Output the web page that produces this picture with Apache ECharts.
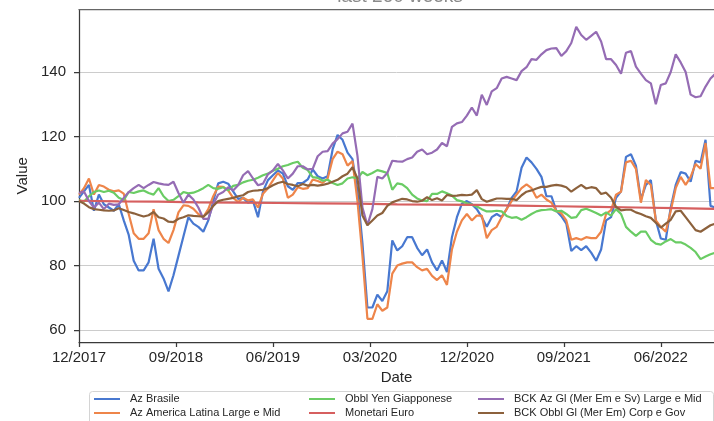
<!DOCTYPE html>
<html>
<head>
<meta charset="utf-8">
<script src="https://cdn.jsdelivr.net/npm/echarts@6/dist/echarts.min.js"></script>
<style>
  html, body { margin: 0; padding: 0; background: #fff; }
  #chart { width: 714px; height: 421px; }
</style>
</head>
<body>
<div id="chart"></div>
<script>
// one point every 2 weeks, week 0 = 12/2017
var STEP = 2;
var azBrasile = [101,103,105,97,102,99,98,97,99,94,
  89.5,81.5,78.5,78.5,81,88.3,79,76,72,77,
  83,89,95,93,92,90.5,94,100,105.5,106,
  105.4,103,100.7,101,99.5,100,95,103,106.5,108,
  109.5,108.5,104.6,103.5,105.6,105.6,106.7,109.8,107.7,107,
  107.7,116,120.5,119,115,113,103,87,67,67,
  71,69,72,87.8,84.7,86,88.8,88.8,85.5,83.2,
  85,81,78.5,81.6,78,88.8,95,99.2,100,99,
  97.5,95,92,95,96,95,97.5,101,103,110.3,
  113.5,112,110,107.5,101.5,101.5,97,95.3,93,84.5,
  86,84.8,86,84,81.5,85,94,95,101,103,
  113.7,114.5,111,100.5,105,106.5,94,88.4,88,98,
  105,109,108.5,106,112.5,112,119,98.5,98];
var azAmericaLatina = [102,104,107,102,105,104.5,103.5,103,103.3,102.3,
  96,90,88.3,88.3,90,97.5,91,88.3,87,91,
  96.5,98.7,98.5,97.6,96,95,97.5,101.5,104.5,104.4,
  103.3,101,99.7,101,100.2,100.5,98,102.3,104,106.4,
  108.7,107,101,102,104.3,103.8,104,106.7,106.2,105.6,
  107,113,115.3,114.5,111,112.4,100,83,63.5,63.5,
  68,66,67,77.5,80,80.6,81,81,79.5,78.5,
  79,76.8,75.5,77,74,85,90.5,94,96,94,
  95.5,95.5,88.5,91,92,95,97.5,100,102,104,
  105.2,104,101,102,100.5,99.5,97,96.2,94,88,
  88.5,88,88.8,88.5,88.5,90.5,96,97.2,102,102.9,
  112,112.5,110,99.5,106.5,105,94,92,90.5,97,
  104,107.5,105,107.5,111.5,110,118,104,104];
var obblYen = [100.3,99.8,101.5,102.8,103.3,102.8,103.2,102.6,101,100.3,
  102.8,102.5,103,103.3,102.5,102,104,101.5,100,100.4,
  101.5,102.8,102.4,102.6,103.2,104,105,104,103.8,104.3,
  103.3,104.7,105,105.8,106.3,106.6,107.2,108,108.5,109.4,
  110,110.8,111.2,111.8,112.2,110.3,109.6,107.4,107.2,106.3,
  106.6,105.6,105,105.5,107,107.4,107,109,108,108.7,
  109.6,109.2,108.7,103.5,105.5,105.2,104,102,100.8,100.2,
  100,102.2,102.2,103,102.4,101.7,100.3,99.9,99.3,98.9,
  98.3,97.5,96.8,96.8,97,96.8,95.4,94.8,95,94.2,
  95,96,96.8,97.2,97.3,97.5,96.8,97,96,94.8,
  95,97.2,97.6,97,96.3,95.5,96.5,95.5,97.5,96,
  92,90.5,89.2,90.5,90.5,88,86.8,86.5,87.5,88.2,
  87.2,87.2,86.5,85.5,84.2,82,82.8,83.5,84];
// Monetari Euro: one point every 16 weeks
var EURO_STEP = 16;
var monetariEuro = [100.1,99.9,99.8,99.6,99.5,99.4,99.3,99.2,99.0,98.9,98.8,98.6,98.4,98.2,98.0,97.8,97.6];
var bckAzGl = [102.5,103,100,98,99.5,97.5,99.2,98.8,99,101,
  102.8,104,105,104,105,105.9,105.5,105.2,105,106,
  102.5,99.5,102,100.5,98,94.5,94.5,99,102,102.8,
  104.3,103.3,104.9,108,109.3,107,104.9,105.4,108.3,109.5,
  111.5,109.5,107,108.5,110.8,110.8,109.8,110,113.9,115.3,
  115.5,117.8,119.2,121,121.5,124,114,98,92.5,97.5,
  107.5,107,108.7,112.5,112.3,112.2,113,113.5,115.3,116,
  114.5,115,116,118,117,123,124.1,124.5,126.5,129,
  126.5,133,129.8,134,135,138,138.5,138,137.5,140.3,
  141.5,144,143.8,145.5,146.8,147.3,147.4,145,146.5,149,
  154,151.5,150,151.2,152.5,149.5,144,144,142.2,139.5,
  146,146.5,141.7,139.5,137.5,136.5,130,136,136.5,140,
  145.5,143,140,133,132.2,132.5,135.5,138,139.5];
var bckObblGl = [100,99.2,98.1,97.5,97.3,97.1,97,97.1,97.8,97.2,
  96.6,96.2,95.7,95.2,95.6,96.6,95,94.6,93.6,93.5,
  94.5,95,95.6,95.4,95.3,95.2,96.5,98.5,100,100.4,
  100.7,101,101.5,101.8,102.8,103.2,103.3,103.5,104,104.9,
  105.6,106,105.3,105,104.6,105.3,104.8,105,104.8,105,
  105.4,106,106.6,107.7,108.5,110.5,107,95.5,92.5,94,
  95.5,96.3,98.5,99.6,100.2,100.7,100.5,100,99.8,100.1,
  101.2,100.3,100.9,100.2,101.9,101.6,101.7,101.9,101.8,102,
  103.4,100.6,99.8,100.3,100.8,100.8,100.7,100.7,100.3,101.8,
  102.9,103.3,103.9,104.4,104.4,104.8,105,104.8,104.3,102.9,
  104,105,103.9,104.3,104,102.2,102.6,101,98.2,97.1,
  97.3,97.3,96.5,96,95.3,94.8,93.3,91.8,93,94.2,
  96.8,97,95,93,91,90.5,91.5,92.5,93];

var seriesNames = ['Az Brasile', 'Az America Latina Large e Mid', 'Obbl Yen Giapponese',
  'Monetari Euro', 'BCK Az Gl (Mer Em e Sv) Large e Mid', 'BCK Obbl Gl (Mer Em) Corp e Gov'];
var seriesColors = ['#4878d0', '#ee854a', '#6acc64', '#d65f5f', '#956cb4', '#8c613c'];

var tickWeeks = [0, 39, 78, 117, 156, 195, 234];
var tickLabels = ['12/2017', '09/2018', '06/2019', '03/2020', '12/2020', '09/2021', '06/2022'];
var yTicks = [60, 80, 100, 120, 140];

var X_MAX = 255.4;
var FONT = '"Liberation Sans", Arial, sans-serif';

function toPoints(values, step) {
  return values.map(function (v, i) { return [i * step, v]; });
}

var allData = [
  toPoints(azBrasile, STEP),
  toPoints(azAmericaLatina, STEP),
  toPoints(obblYen, STEP),
  toPoints(monetariEuro, EURO_STEP),
  toPoints(bckAzGl, STEP),
  toPoints(bckObblGl, STEP)
];

var series = seriesNames.map(function (name, i) {
  return {
    name: name,
    type: 'line',
    data: allData[i],
    showSymbol: false,
    symbol: 'none',
    color: seriesColors[i],
    lineStyle: { width: 2.2, color: seriesColors[i] }
  };
});

function legendCol(names, left) {
  return {
    data: names,
    orient: 'vertical',
    left: left,
    top: 392.5,
    padding: 0,
    icon: 'rect',
    itemWidth: 26,
    itemHeight: 2,
    itemGap: 1,
    selectedMode: false,
    textStyle: { fontSize: 11, color: '#262626', lineHeight: 13, padding: [0, 0, 0, 5], fontFamily: FONT }
  };
}

var chart = echarts.init(document.getElementById('chart'), null, { renderer: 'canvas' });
chart.setOption({
  animation: false,
  textStyle: { fontFamily: FONT },
  grid: { left: 79, right: 0, top: 9.5, bottom: 79 },
  graphic: [{
    // title, cut off by the top edge as in the picture
    type: 'text',
    x: 400,
    y: 6.5,
    style: {
      text: 'last 260 weeks',
      fontSize: 19,
      fontFamily: FONT,
      fill: '#8a8a8a',
      textAlign: 'center',
      textVerticalAlign: 'bottom'
    },
    z: 1
  }, {
    type: 'rect',
    shape: { x: 89.5, y: 391.5, width: 624, height: 40, r: 3 },
    style: { fill: '#fff', stroke: '#d4d4d4', lineWidth: 1 },
    z: 1
  }],
  legend: [
    legendCol([seriesNames[0], seriesNames[1]], 94),
    legendCol([seriesNames[2], seriesNames[3]], 309),
    legendCol([seriesNames[4], seriesNames[5]], 478)
  ],
  xAxis: [{
    type: 'value',
    min: 0,
    max: X_MAX,
    position: 'bottom',
    name: 'Date',
    nameLocation: 'middle',
    nameGap: 28,
    nameTextStyle: { fontSize: 15, color: '#262626' },
    axisLine: { show: true, onZero: false, lineStyle: { color: '#3a3a3a', width: 1.25 } },
    axisTick: { show: true, length: 5, customValues: tickWeeks, lineStyle: { color: '#3a3a3a', width: 1.25 } },
    axisLabel: {
      customValues: tickWeeks,
      fontSize: 15,
      color: '#262626',
      margin: 8,
      formatter: function (v) { return tickLabels[tickWeeks.indexOf(v)] || ''; }
    },
    splitLine: { show: false }
  }, {
    type: 'value',
    min: 0,
    max: X_MAX,
    position: 'top',
    axisLine: { show: true, onZero: false, lineStyle: { color: '#666', width: 1.25 } },
    axisTick: { show: false },
    axisLabel: { show: false },
    splitLine: { show: false }
  }],
  yAxis: {
    type: 'value',
    min: 56.3,
    max: 159.4,
    name: 'Value',
    nameLocation: 'middle',
    nameGap: 49,
    nameTextStyle: { fontSize: 15, color: '#262626' },
    axisLine: { show: true, onZero: false, lineStyle: { color: '#3a3a3a', width: 1.25 } },
    axisTick: { show: true, length: 5, customValues: yTicks, lineStyle: { color: '#3a3a3a', width: 1.25 } },
    axisLabel: { customValues: yTicks, fontSize: 15, color: '#262626', margin: 13 },
    splitLine: { show: true, lineStyle: { color: '#cccccc', width: 1 } }
  },
  series: series
});
</script>
</body>
</html>
